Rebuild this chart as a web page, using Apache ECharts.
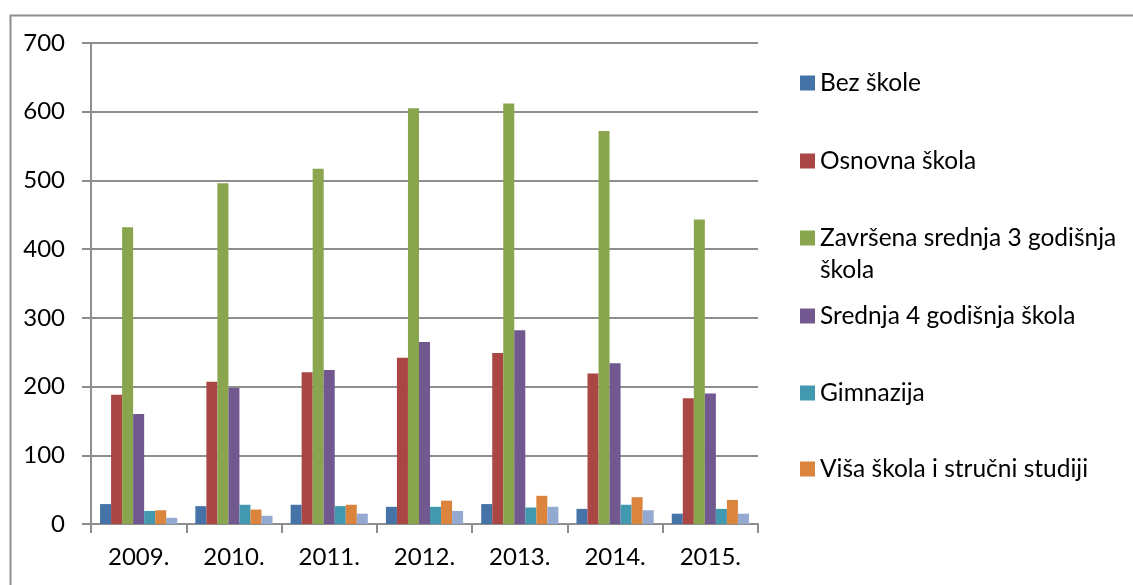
<!DOCTYPE html>
<html>
<head>
<meta charset="utf-8">
<script src="https://cdn.jsdelivr.net/npm/echarts@6/dist/echarts.min.js"></script>
<style>
  html, body { margin: 0; padding: 0; background: #fff; }
  #chart { width: 1133px; height: 585px; }
</style>
</head>
<body>
<div id="chart"></div>
<script>
// years on the x axis
var years = ['2009.', '2010.', '2011.', '2012.', '2013.', '2014.', '2015.'];

// values
var bezSkole    = [29, 26, 28, 25, 29, 22, 15];
var osnovna     = [188, 207, 221, 242, 249, 219, 183];
var zavrsena3   = [432, 496, 517, 605, 612, 572, 443];
var srednja4    = [160, 198, 224, 265, 282, 234, 190];
var gimnazija   = [19, 28, 26, 25, 24, 28, 22];
var visaSkola   = [20, 21, 28, 34, 41, 39, 35];
var fakultet    = [9, 12, 15, 19, 25, 20, 15]; // last series, its legend entry is cut off

var names = ['Bez škole', 'Osnovna škola', 'Završena srednja 3 godišnja škola',
             'Srednja 4 godišnja škola', 'Gimnazija', 'Viša škola i stručni studiji', 'Fakultet'];
var colors = ['#4572A7', '#AA4643', '#89A54E', '#71588F', '#4198AF', '#DB843D', '#93A9CF'];
var values = [bezSkole, osnovna, zavrsena3, srednja4, gimnazija, visaSkola, fakultet];

var font = 'Lato';
var gray = '#8e8e8e';

var chart = echarts.init(document.getElementById('chart'));

var series = [];
for (var i = 0; i < names.length; i++) {
    series.push({
        name: names[i],
        type: 'bar',
        data: values[i],
        barGap: '0%',
        barCategoryGap: '19%',
        itemStyle: { color: colors[i] },
        animation: false
    });
}

// one legend block per entry so the spacing stays even like the original
var legendTops = [69, 147, 190, 302, 379, 455];
var legends = [];
for (var j = 0; j < 6; j++) {
    var wrap = (j == 2);
    legends.push({
        data: [names[j]],
        left: 800,
        top: legendTops[j],
        padding: 0,
        itemWidth: 15,
        itemHeight: 15,
        itemGap: 7,
        icon: 'rect',
        selectedMode: false,
        // blank first line keeps the icon level with the first text line
        formatter: wrap ? function () { return '\u00a0\nZavršena srednja 3 godišnja\nškola'; } : '{name}',
        textStyle: {
            fontFamily: font,
            fontSize: 24.5,
            color: '#000',
            lineHeight: wrap ? 32 : 28
        }
    });
}

var option = {
    backgroundColor: '#fff',
    animation: false,
    graphic: [{
        type: 'rect',
        left: 8,
        top: 13,
        shape: { width: 1140, height: 600 },
        style: { fill: 'none', stroke: gray, lineWidth: 2 },
        silent: true
    }],
    legend: legends,
    grid: { left: 91, right: 375, top: 43, bottom: 61 },
    xAxis: {
        type: 'category',
        data: years,
        axisLine: { lineStyle: { color: gray, width: 2 } },
        axisTick: { show: true, length: 9, lineStyle: { color: gray, width: 2 } },
        axisLabel: { fontFamily: font, fontSize: 24, color: '#000', margin: 21 }
    },
    yAxis: {
        type: 'value',
        min: 0,
        max: 700,
        interval: 100,
        axisLine: { show: true, lineStyle: { color: gray, width: 2 } },
        axisTick: { show: true, length: 9, lineStyle: { color: gray, width: 2 } },
        axisLabel: { fontFamily: font, fontSize: 24, color: '#000', margin: 26 },
        splitLine: { lineStyle: { color: gray, width: 2 } }
    },
    series: series
};

chart.setOption(option);
</script>
</body>
</html>
